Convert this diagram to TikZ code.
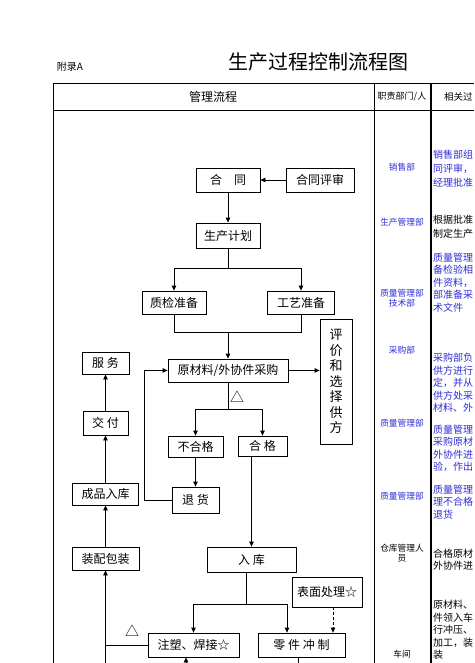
\documentclass[tikz,border=0pt]{standalone}
\usepackage{fontspec}
\setmainfont{Noto Sans CJK SC}
\usetikzlibrary{arrows.meta}
\definecolor{deptblue}{RGB}{45,45,215}

\begin{document}
\begin{tikzpicture}[x=1pt, y=-1pt, >={Triangle[length=5pt,width=4.5pt]},
  box/.style={draw, line width=0.8pt, inner sep=1pt, font=\fontsize{12}{14}\selectfont},
  link/.style={line width=0.8pt},
  dept/.style={font=\fontsize{8.7}{10.5}\selectfont, align=center, inner sep=0pt},
  note/.style={font=\fontsize{10}{12.5}\selectfont, align=left, anchor=west, inner sep=0pt}]

\useasboundingbox (0,0) rectangle (474,663);

% title line
\node (appendix) at (70,67) {\fontsize{10}{12}\selectfont 附录A};
\node (title) at (318,62) {\fontsize{20}{24}\selectfont 生产过程控制流程图};

% table frame and header
\draw[line width=1pt] (53,84) -- (474,84);
\draw[line width=0.8pt] (53,110) -- (474,110);
\draw[line width=0.8pt] (53,84) -- (53,663);
\draw[line width=0.6pt] (374,84) -- (374,663);
\draw[line width=1.2pt] (431,84) -- (431,663);
\node (hflow) at (213,97) {\fontsize{12}{14}\selectfont 管理流程};
\node (hdept) at (402,97) {\fontsize{9}{11}\selectfont 职责部门/人};
\node[anchor=west, inner sep=0pt] (hrel) at (444,97) {\fontsize{9.5}{12}\selectfont 相关过};

% contract and planning
\node[box, minimum width=64, minimum height=24] (hetong) at (228,180) {合　同};
\node[box, minimum width=68, minimum height=24] (pingshen) at (320,180) {合同评审};
\node[box, minimum width=64, minimum height=25] (jihua) at (228,235.5) {生产计划};
\draw[link,->] (pingshen) -- (hetong);
\draw[link,->] (hetong) -- (jihua);

% preparations
\node[box, minimum width=64, minimum height=23] (zhijian) at (174,302.5) {质检准备};
\node[box, minimum width=67, minimum height=23] (gongyi) at (301,302.5) {工艺准备};
\coordinate (split1) at (228,268);
\draw[link] (jihua) -- (split1);
\draw[link,->] (split1) -| (zhijian);
\draw[link,->] (split1) -| (gongyi);

% purchasing and supplier choice
\node[box, minimum width=120, minimum height=23] (caigou) at (228,370.5) {原材料/外协件采购};
\node[box, minimum width=32, minimum height=125, align=center, font=\fontsize{13}{15.5}\selectfont] (pingjia) at (336,381.5) {评\\价\\和\\选\\择\\供\\方};
\coordinate (merge1) at (228,332);
\draw[link] (zhijian) |- (merge1);
\draw[link] (gongyi) |- (merge1);
\draw[link,->] (merge1) -- (caigou);
\draw[link,->] (caigou) -- (caigou.east -| pingjia.west);

% inspection of purchased parts
\node[box, minimum width=55, minimum height=21] (buhege) at (195.5,446.5) {不合格};
\node[box, minimum width=49, minimum height=20] (hege) at (262.5,446) {合 格};
\node[box, minimum width=47, minimum height=26] (tuihuo) at (195.5,500) {退 货};
\node[font=\fontsize{14}{16}\selectfont] (tri1) at (237,397) {△};
\coordinate (split2) at (228,409);
\draw[link] (caigou) -- (split2);
\draw[link,->] (split2) -| (buhege);
\draw[link,->] (split2) -| (hege);
\draw[link,->] (buhege) -- (tuihuo);
\draw[link,->] (tuihuo.west) -- ++(-27,0) |- (caigou.west);

% storage
\node[box, minimum width=89, minimum height=25] (ruku) at (251.5,559.5) {入 库};
\draw[link,->] (ruku.north |- hege.south) -- (ruku.north);

% finished goods column
\node[box, minimum width=47, minimum height=22] (fuwu) at (105.5,363) {服 务};
\node[box, minimum width=45, minimum height=24] (jiaofu) at (105.5,423) {交 付};
\node[box, minimum width=66, minimum height=22] (chengpin) at (105.5,494) {成品入库};
\node[box, minimum width=67, minimum height=23] (zhuangpei) at (105.5,558.5) {装配包装};
\draw[link,->] (zhuangpei) -- (chengpin);
\draw[link,->] (chengpin) -- (jiaofu);
\draw[link,->] (jiaofu) -- (fuwu);

% processing
\node[box, minimum width=70, minimum height=30] (biaomian) at (327,592) {表面处理☆};
\node[box, minimum width=91, minimum height=24] (zhusu) at (193.5,645) {注塑、焊接☆};
\node[box, minimum width=87, minimum height=24] (chongzhi) at (301.5,645) {零 件 冲 制};
\coordinate (split3) at (246,604);
\draw[link] (ruku.south -| split3) -- (split3);
\draw[link,->] (split3) -| (zhusu);
\draw[link,->] (split3) -| ([xshift=-14.5]chongzhi.north);
\draw[link,->,densely dashed] ([xshift=6]biaomian.south) -- ([xshift=6]biaomian.south |- chongzhi.north);

% lines running off the bottom edge
\node[font=\fontsize{14}{16}\selectfont] (tri2) at (132,631) {△};
\coordinate (bot1) at (105.5,663);
\coordinate (bot2) at (186,663);
\coordinate (bot3) at (298,663);
\draw[link,->] (bot1) -- (zhuangpei);
\draw[link] (zhusu.west) -- (zhusu.west -| bot1);
\draw[link,->] (bot2) -- (bot2 |- zhusu.south);
\draw[link] (bot3 |- chongzhi.south) -- (bot3);

% departments column
\node[dept, text=deptblue] (d1) at (402,167) {销售部};
\node[dept, text=deptblue] (d2) at (402,222) {生产管理部};
\node[dept, text=deptblue] (d3) at (402,298) {质量管理部\\技术部};
\node[dept, text=deptblue] (d4) at (402,350) {采购部};
\node[dept, text=deptblue] (d5) at (402,423) {质量管理部};
\node[dept, text=deptblue] (d6) at (402,496) {质量管理部};
\node[dept] (d7) at (402,553) {仓库管理人\\员};
\node[dept] (d8) at (402,654) {车间};

% related notes column (cut at the right edge)
\node[note, text=deptblue, font=\fontsize{10}{14}\selectfont] (n1) at (433,169) {销售部组\\同评审，\\经理批准};
\node[note, font=\fontsize{10}{14}\selectfont] (n2) at (433,227) {根据批准\\制定生产};
\node[note, text=deptblue] (n3) at (433,282.5) {质量管理\\备检验相\\件资料，\\部准备采\\术文件};
\node[note, text=deptblue] (n4) at (433,383) {采购部负\\供方进行\\定，并从\\供方处采\\材料、外};
\node[note, text=deptblue] (n5) at (433,448.5) {质量管理\\采购原材\\外协件进\\验，作出};
\node[note, text=deptblue] (n6) at (433,502) {质量管理\\理不合格\\退货};
\node[note] (n7) at (433,559.5) {合格原材\\外协件进};
\node[note] (n8) at (433,630) {原材料、\\件领入车\\行冲压、\\加工，装\\装};

\end{tikzpicture}
\end{document}
